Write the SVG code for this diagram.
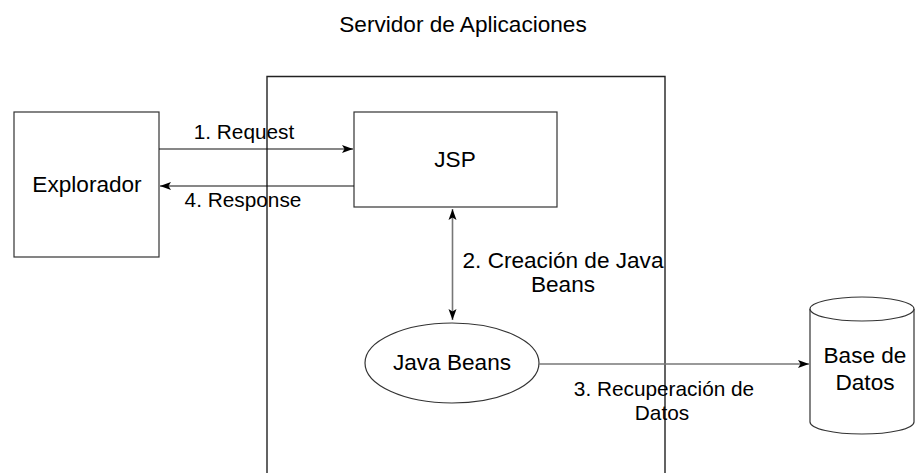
<svg xmlns="http://www.w3.org/2000/svg" width="915" height="473" viewBox="0 0 915 473">
<defs>
<marker id="arr" viewBox="0 0 11 10" refX="11" refY="5" markerWidth="11" markerHeight="10" markerUnits="userSpaceOnUse" orient="auto-start-reverse">
<path d="M0,1 L11,5 L0,9 L2.5,5 Z" fill="#000"/>
</marker>
</defs>
<style>
text{font-family:"Liberation Sans",Arial,sans-serif;fill:#000;text-anchor:middle}
.node{font-size:22.6px}
.lbl{font-size:20.8px}
.shape{fill:#fff;stroke:#333;stroke-width:1.2}
.c{fill:none;stroke:#111;stroke-width:1.2}
.g{fill:none;stroke:#777;stroke-width:1.6}
</style>
<rect width="915" height="473" fill="#fff"/>
<g id="servidor">
<text class="node" x="463" y="32">Servidor de Aplicaciones</text>
<path d="M267,480 V76.5 H665 V480" fill="none" stroke="#222" stroke-width="1.4"/>
</g>
<g id="explorador">
<rect class="shape" x="14" y="112" width="145" height="145"/>
<text class="node" x="87" y="192">Explorador</text>
</g>
<g id="jsp">
<rect class="shape" x="354" y="112" width="203" height="95"/>
<text class="node" x="455" y="167">JSP</text>
</g>
<g id="javabeans">
<ellipse class="shape" cx="452" cy="363" rx="87" ry="40"/>
<text class="node" x="452" y="370">Java Beans</text>
</g>
<g id="basedatos">
<path class="shape" d="M810,309 V422 A52,12 0 0 0 914,422 V309"/>
<ellipse class="shape" cx="862" cy="309" rx="52" ry="12"/>
<text class="node" x="865" y="363">Base de</text>
<text class="node" x="865" y="390">Datos</text>
</g>
<g id="connectors">
<line class="c" x1="159" y1="149" x2="353" y2="149" marker-end="url(#arr)"/>
<line class="c" x1="354" y1="186" x2="160" y2="186" marker-end="url(#arr)"/>
<line class="g" x1="452.5" y1="209" x2="452.5" y2="320" marker-start="url(#arr)" marker-end="url(#arr)"/>
<line class="g" x1="539" y1="364" x2="809" y2="364" marker-end="url(#arr)"/>
<text class="lbl" x="244" y="139">1. Request</text>
<text class="lbl" x="243" y="207">4. Response</text>
<text class="node" x="563" y="268">2. Creación de Java</text>
<text class="node" x="563" y="292">Beans</text>
<text class="lbl" x="664" y="396">3. Recuperación de</text>
<text class="lbl" x="662" y="420">Datos</text>
</g>
</svg>
